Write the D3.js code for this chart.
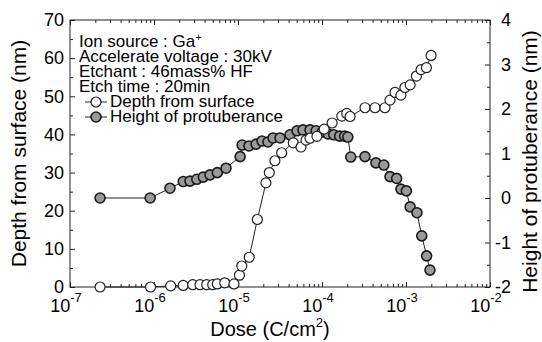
<!DOCTYPE html>
<html>
<head>
<meta charset="utf-8">
<script src="https://cdn.jsdelivr.net/npm/d3@7"></script>
<style>
  body { margin: 0; background: #fff; }
  svg { font-family: "Liberation Sans", Arial, sans-serif; }
</style>
</head>
<body>
<svg id="chart" width="542" height="342"></svg>
<script>
// depth from surface (open circles), dose in C/cm2
const depthDose = [2.28e-7, 9.1e-7, 1.58e-6, 2.23e-6, 2.89e-6, 3.53e-6, 4.24e-6, 5.0e-6, 5.67e-6, 6.95e-6,
  8.96e-6, 1.04e-5, 1.11e-5, 1.36e-5, 1.70e-5, 2.15e-5, 2.36e-5, 2.75e-5, 3.31e-5, 4.55e-5,
  5.62e-5, 6.45e-5, 7.2e-5, 8.7e-5, 1.06e-4, 1.32e-4, 1.72e-4, 1.97e-4, 2.16e-4, 3.25e-4,
  4.28e-4, 5.62e-4, 6.45e-4, 7.4e-4, 8.7e-4, 9.7e-4, 1.12e-3, 1.33e-3, 1.51e-3, 1.75e-3, 1.99e-3];
const depth = [0, 0, 0.3, 0.4, 0.6, 0.6, 0.6, 0.6, 0.8, 1.1,
  0.8, 3.1, 5.5, 7.8, 17.7, 27.3, 30, 33.1, 35.2, 37.8,
  36.7, 38.5, 39, 39.5, 41.4, 43, 44.8, 45.5, 44.7, 47,
  47, 47, 49, 51, 50.3, 52.3, 53, 55.3, 57, 57.5, 60.7];

// height of protuberance (filled circles)
const heightDose = [2.28e-7, 9.0e-7, 1.55e-6, 2.23e-6, 2.68e-6, 3.23e-6, 3.86e-6, 4.64e-6, 5.67e-6, 7.2e-6,
  1.06e-5, 1.12e-5, 1.35e-5, 1.64e-5, 1.93e-5, 2.27e-5, 2.61e-5, 3.16e-5, 4.16e-5, 5.04e-5,
  5.93e-5, 7.2e-5, 8.5e-5, 1.0e-4, 1.18e-4, 1.38e-4, 1.62e-4, 1.86e-4, 2.03e-4, 2.2e-4,
  3.25e-4, 4.38e-4, 5.45e-4, 6.45e-4, 7.74e-4, 8.7e-4, 1.01e-3, 1.12e-3, 1.35e-3, 1.54e-3,
  1.76e-3, 1.93e-3];
const height = [0, 0, 0.22, 0.37, 0.38, 0.42, 0.47, 0.52, 0.57, 0.67,
  0.93, 1.19, 1.17, 1.21, 1.28, 1.26, 1.35, 1.35, 1.42, 1.51,
  1.53, 1.53, 1.51, 1.48, 1.44, 1.42, 1.39, 1.39, 1.37, 0.92,
  0.93, 0.79, 0.74, 0.48, 0.44, 0.20, 0.16, -0.20, -0.33, -0.85,
  -1.30, -1.62];

const xExponents = [-7, -6, -5, -4, -3, -2];
const depthTicks = [0, 10, 20, 30, 40, 50, 60, 70];
const heightTicks = [-2, -1, 0, 1, 2, 3, 4];
const notes = ["Ion source : Ga", "Accelerate voltage : 30kV", "Etchant : 46mass% HF", "Etch time : 20min"];
const seriesNames = ["Depth from surface", "Height of protuberance"];

const pLeft = 70, pRight = 490, pTop = 20, pBottom = 287;
const svg = d3.select("#chart");

const x = d3.scaleLog().domain([1e-7, 1e-2]).range([pLeft, pRight]);
const yL = d3.scaleLinear().domain([0, 70]).range([pBottom, pTop]);
const yR = d3.scaleLinear().domain([-2, 4]).range([pBottom, pTop]);

const minorX = [];
xExponents.slice(0, -1).forEach((e) => {
  for (let k = 2; k <= 9; k++) minorX.push(k * Math.pow(10, e));
});

// frame
svg.append("rect")
  .attr("x", pLeft).attr("y", pTop)
  .attr("width", pRight - pLeft).attr("height", pBottom - pTop)
  .attr("fill", "none").attr("stroke", "#222").attr("stroke-width", 1);

function styleAxis(g) {
  g.select(".domain").remove();
  g.selectAll(".tick line").attr("stroke", "#222");
  g.selectAll("text").attr("fill", "#000").style("font-size", "18px");
}

// bottom and top x ticks
svg.append("g").attr("transform", `translate(0,${pBottom})`)
  .call(d3.axisBottom(x).tickValues(xExponents.map((e) => Math.pow(10, e))).tickSize(-5).tickFormat(""))
  .call(styleAxis);
svg.append("g").attr("transform", `translate(0,${pBottom})`)
  .call(d3.axisBottom(x).tickValues(minorX).tickSize(-3).tickFormat(""))
  .call(styleAxis);
svg.append("g").attr("transform", `translate(0,${pTop})`)
  .call(d3.axisTop(x).tickValues(xExponents.map((e) => Math.pow(10, e))).tickSize(-5).tickFormat(""))
  .call(styleAxis);
svg.append("g").attr("transform", `translate(0,${pTop})`)
  .call(d3.axisTop(x).tickValues(minorX).tickSize(-3).tickFormat(""))
  .call(styleAxis);

// x tick labels with superscripts
const xLab = svg.append("g").selectAll("text")
  .data(xExponents)
  .join("text")
  .attr("x", (d) => x(Math.pow(10, d)) - 4)
  .attr("y", 312)
  .attr("text-anchor", "middle")
  .style("font-size", "18px");
xLab.append("tspan").text("10");
xLab.append("tspan").attr("dy", -10).style("font-size", "13px").text((d) => "-" + Math.abs(d));

// left axis
svg.append("g").attr("transform", `translate(${pLeft},0)`)
  .call(d3.axisLeft(yL).tickValues(depthTicks).tickSize(-5).tickPadding(6))
  .call(styleAxis);
svg.append("g").attr("transform", `translate(${pLeft},0)`)
  .call(d3.axisLeft(yL).tickValues(d3.range(5, 70, 10)).tickSize(-3).tickFormat(""))
  .call(styleAxis);

// right axis
svg.append("g").attr("transform", `translate(${pRight},0)`)
  .call(d3.axisRight(yR).tickValues(heightTicks).tickSize(-5).tickPadding(21))
  .call(styleAxis)
  .call((g) => g.selectAll("text").attr("text-anchor", "end").text((d) => (d < 0 ? "-" + Math.abs(d) : d)));
svg.append("g").attr("transform", `translate(${pRight},0)`)
  .call(d3.axisRight(yR).tickValues(d3.range(-1.5, 4, 1)).tickSize(-3).tickFormat(""))
  .call(styleAxis);

// axis titles
svg.append("text")
  .attr("transform", `translate(26,${(pTop + pBottom) / 2}) rotate(-90)`)
  .attr("text-anchor", "middle")
  .style("font-size", "21px")
  .text("Depth from surface (nm)");
svg.append("text")
  .attr("transform", `translate(537,${(pTop + pBottom) / 2 + 8}) rotate(-90)`)
  .attr("text-anchor", "middle")
  .style("font-size", "21px")
  .text("Height of protuberance (nm)");
const xt = svg.append("text")
  .attr("x", (pLeft + pRight) / 2 - 10)
  .attr("y", 336)
  .attr("text-anchor", "middle")
  .style("font-size", "20px");
xt.append("tspan").text("Dose (C/cm");
xt.append("tspan").attr("dy", -9).style("font-size", "13px").text("2");
xt.append("tspan").attr("dy", 9).text(")");

// series
const heightPts = heightDose.map((d, i) => [d, height[i]]);
const depthPts = depthDose.map((d, i) => [d, depth[i]]);

svg.append("path")
  .datum(heightPts)
  .attr("fill", "none").attr("stroke", "#222").attr("stroke-width", 1)
  .attr("d", d3.line().x((d) => x(d[0])).y((d) => yR(d[1])));
svg.append("path")
  .datum(depthPts)
  .attr("fill", "none").attr("stroke", "#222").attr("stroke-width", 1)
  .attr("d", d3.line().x((d) => x(d[0])).y((d) => yL(d[1])));

svg.append("g").selectAll("circle")
  .data(heightPts)
  .join("circle")
  .attr("cx", (d) => x(d[0]))
  .attr("cy", (d) => yR(d[1]))
  .attr("r", 5)
  .attr("fill", "#9a9a9a")
  .attr("stroke", "#1a1a1a")
  .attr("stroke-width", 1.6);

svg.append("g").selectAll("circle")
  .data(depthPts)
  .join("circle")
  .attr("cx", (d) => x(d[0]))
  .attr("cy", (d) => yL(d[1]))
  .attr("r", 5)
  .attr("fill", "#fff")
  .attr("stroke", "#222")
  .attr("stroke-width", 1.2);

// notes and legend
const noteText = svg.append("g").selectAll("text")
  .data(notes)
  .join("text")
  .attr("x", 79)
  .attr("y", (d, i) => 47 + i * 15)
  .style("font-size", "17px")
  .text((d) => d);
noteText.filter((d, i) => i === 0)
  .append("tspan").attr("dy", -6).style("font-size", "11px").text("+");

const leg = svg.append("g").selectAll("g")
  .data(seriesNames)
  .join("g")
  .attr("transform", (d, i) => `translate(0,${107 + i * 15})`);
leg.append("line")
  .attr("x1", 85).attr("x2", 107).attr("y1", -5).attr("y2", -5)
  .attr("stroke", "#222");
leg.append("circle")
  .attr("cx", 96).attr("cy", -5).attr("r", 5)
  .attr("fill", (d, i) => (i === 0 ? "#fff" : "#9a9a9a"))
  .attr("stroke", "#1a1a1a")
  .attr("stroke-width", (d, i) => (i === 0 ? 1.2 : 1.6));
leg.append("text")
  .attr("x", 110)
  .style("font-size", "17px")
  .text((d) => d);
</script>
</body>
</html>
